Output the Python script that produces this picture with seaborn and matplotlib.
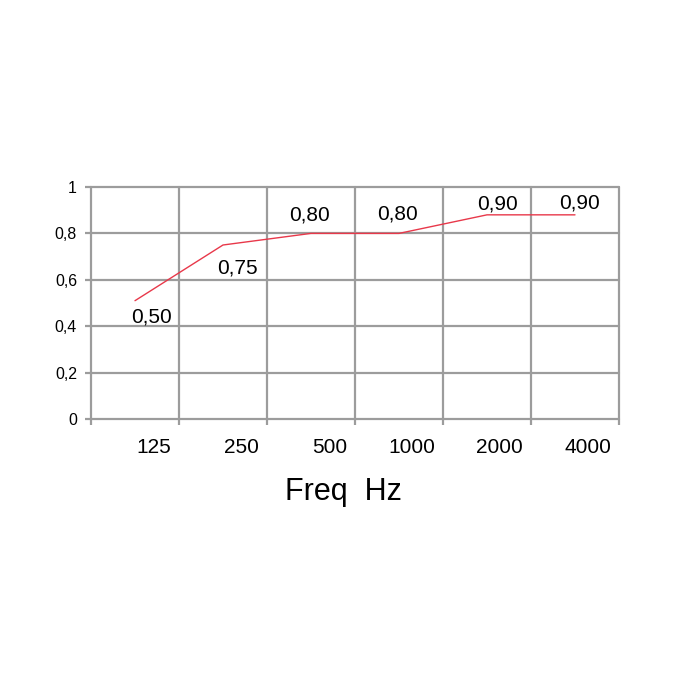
import numpy as np
import pandas as pd
import matplotlib
matplotlib.use('Agg')
import matplotlib.pyplot as plt
import seaborn as sns

# data
freqs = ["125", "250", "500", "1000", "2000", "4000"]
alpha = [0.51, 0.75, 0.80, 0.80, 0.88, 0.88]
value_labels = ["0,50", "0,75", "0,80", "0,80", "0,90", "0,90"]
y_ticks = [0, 0.2, 0.4, 0.6, 0.8, 1.0]
y_ticklabels = ["0", "0,2", "0,4", "0,6", "0,8", "1"]

# label offsets (pixels) relative to each point
label_offsets = [(17, -16), (14, -23), (-1, 18), (-2, 19), (10, 11), (5, 12)]

sns.set_style("white", {"text.color": "black", "xtick.color": "black", "ytick.color": "black"})
plt.rcParams['font.family'] = ['Liberation Sans', 'DejaVu Sans']

df = pd.DataFrame({"x": np.arange(len(freqs)), "alpha": alpha})

fig = plt.figure(figsize=(6.8, 6.8), dpi=100)
ax = fig.add_axes([91 / 680, 1 - 419 / 680, 528 / 680, 232 / 680])

sns.lineplot(data=df, x="x", y="alpha", ax=ax, color="#e8384a", lw=1.0)

grid_c = "#9c9c9c"
bounds = np.arange(len(freqs) + 1) - 0.5
ax.set_xlim(bounds[0], bounds[-1])
ax.set_ylim(0, 1)
for b in bounds:
    ax.axvline(b, color=grid_c, lw=1.6, zorder=0, clip_on=False)
for yv in y_ticks:
    ax.axhline(yv, color=grid_c, lw=1.6, zorder=0, clip_on=False)
for s in ax.spines.values():
    s.set_visible(False)

# tick marks on column boundaries, labels right-aligned just left of each boundary
ax.set_xticks(bounds, minor=True)
ax.set_xticks(bounds[1:] - 0.09)
ax.set_xticklabels(freqs, fontsize=15, ha="right", color="black")
ax.tick_params(axis="x", which="major", length=0, pad=14)
ax.tick_params(axis="x", which="minor", length=4, width=1.6, color=grid_c,
               direction="out", bottom=True)
ax.set_yticks(y_ticks)
ax.set_yticklabels(y_ticklabels, fontsize=11.5, color="black", va="center_baseline")
ax.tick_params(axis="y", length=4, width=1.6, color=grid_c, pad=6, direction="out", left=True)

ax.set_xlabel("Freq  Hz", fontsize=22, color="black")
ax.xaxis.set_label_coords(0.479, -0.25)
ax.set_ylabel("")

for i, (lbl, off) in enumerate(zip(value_labels, label_offsets)):
    ax.annotate(lbl, (i, alpha[i]), xytext=off, textcoords="offset pixels",
                ha="center", va="center", fontsize=15, color="black")

fig.savefig("out.png", dpi=100)
plt.close(fig)
